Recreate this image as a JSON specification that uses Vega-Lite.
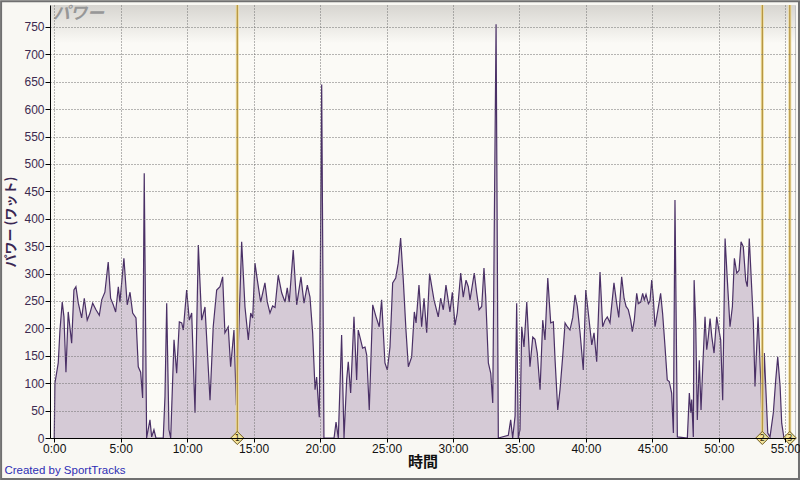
{
  "$schema": "https://vega.github.io/schema/vega-lite/v6.json",
  "width": 745,
  "height": 433,
  "autosize": "none",
  "padding": {"left": 50, "top": 5, "right": 5, "bottom": 42},
  "background": "#F9F8F3",
  "config": {
    "view": {"fill": "#FBFAF6", "stroke": "#C4C4C4"},
    "axisX": {
      "zindex": 1,
      "tickCount": 12,
      "labelExpr": "datum.value + ':00'",
      "grid": true, "gridDash": [1, 2], "gridColor": "#6E6E6E", "gridOpacity": 1,
      "domainColor": "#000000", "tickColor": "#000000", "tickSize": 4,
      "labelFont": "Liberation Sans Narrow, Liberation Sans", "labelFontSize": 12, "labelColor": "#111111",
      "labelPadding": 1, "labelFlush": false, "labelOverlap": false,
      "titleFont": "Noto Sans CJK JP", "titleFontSize": 15, "titleFontWeight": "bold",
      "titleColor": "#111111", "titlePadding": 0
    },
    "axisY": {
      "zindex": 1,
      "tickCount": 16,
      "grid": true, "gridDash": [1, 2], "gridColor": "#6E6E6E", "gridOpacity": 1,
      "domainColor": "#000000", "tickColor": "#000000", "tickSize": 5,
      "labelFont": "Liberation Sans Narrow, Liberation Sans", "labelFontSize": 12, "labelColor": "#3D2A50",
      "labelPadding": 1, "labelOverlap": false,
      "titleFont": "Noto Sans CJK JP", "titleFontSize": 13, "titleFontWeight": "bold",
      "titleColor": "#3A2752", "titlePadding": 6
    }
  },
  "datasets": {
    "power": [
      {"t":0,"w":0},{"t":0.05,"w":100},{"t":0.3,"w":137},{"t":0.43,"w":197},{"t":0.6,"w":248},{"t":0.73,"w":221},{"t":0.88,"w":120},{"t":1.05,"w":230},{"t":1.31,"w":173},{"t":1.48,"w":270},{"t":1.63,"w":276},{"t":1.81,"w":246},{"t":2.06,"w":219},{"t":2.26,"w":255},{"t":2.48,"w":215},{"t":2.69,"w":228},{"t":2.89,"w":246},{"t":3.14,"w":234},{"t":3.39,"w":224},{"t":3.57,"w":252},{"t":3.81,"w":266},{"t":4.06,"w":321},{"t":4.24,"w":255},{"t":4.44,"w":243},{"t":4.62,"w":230},{"t":4.82,"w":276},{"t":4.94,"w":248},{"t":5.24,"w":328},{"t":5.49,"w":243},{"t":5.7,"w":266},{"t":5.9,"w":228},{"t":6.15,"w":219},{"t":6.32,"w":130},{"t":6.5,"w":120},{"t":6.65,"w":73},{"t":6.77,"w":483},{"t":6.95,"w":0},{"t":7.2,"w":33},{"t":7.33,"w":2},{"t":7.5,"w":15},{"t":7.65,"w":0},{"t":8.2,"w":0},{"t":8.33,"w":75},{"t":8.46,"w":246},{"t":8.63,"w":15},{"t":8.76,"w":0},{"t":9.01,"w":179},{"t":9.21,"w":118},{"t":9.41,"w":212},{"t":9.59,"w":210},{"t":9.71,"w":197},{"t":9.96,"w":270},{"t":10.16,"w":215},{"t":10.34,"w":228},{"t":10.59,"w":46},{"t":10.84,"w":352},{"t":11.09,"w":215},{"t":11.34,"w":239},{"t":11.72,"w":69},{"t":11.96,"w":203},{"t":12.22,"w":270},{"t":12.47,"w":276},{"t":12.67,"w":294},{"t":12.84,"w":192},{"t":13.09,"w":203},{"t":13.27,"w":130},{"t":13.52,"w":197},{"t":13.7,"w":60},{"t":14.1,"w":358},{"t":14.35,"w":239},{"t":14.6,"w":179},{"t":14.78,"w":228},{"t":14.93,"w":219},{"t":15.1,"w":319},{"t":15.28,"w":288},{"t":15.53,"w":248},{"t":15.85,"w":283},{"t":16.03,"w":248},{"t":16.23,"w":228},{"t":16.43,"w":241},{"t":16.61,"w":238},{"t":16.85,"w":297},{"t":17.11,"w":265},{"t":17.36,"w":248},{"t":17.53,"w":274},{"t":17.68,"w":248},{"t":17.98,"w":343},{"t":18.24,"w":243},{"t":18.56,"w":294},{"t":18.79,"w":246},{"t":19.04,"w":279},{"t":19.24,"w":257},{"t":19.44,"w":192},{"t":19.62,"w":88},{"t":19.74,"w":111},{"t":19.94,"w":38},{"t":20.12,"w":645},{"t":20.29,"w":0},{"t":21.05,"w":0},{"t":21.2,"w":29},{"t":21.37,"w":0},{"t":21.62,"w":188},{"t":21.8,"w":0},{"t":22.0,"w":106},{"t":22.12,"w":139},{"t":22.3,"w":82},{"t":22.55,"w":221},{"t":22.75,"w":106},{"t":22.87,"w":197},{"t":23.05,"w":179},{"t":23.2,"w":164},{"t":23.38,"w":166},{"t":23.51,"w":151},{"t":23.7,"w":51},{"t":23.96,"w":243},{"t":24.21,"w":221},{"t":24.45,"w":203},{"t":24.63,"w":252},{"t":24.88,"w":137},{"t":25.06,"w":124},{"t":25.26,"w":166},{"t":25.46,"w":283},{"t":25.69,"w":292},{"t":25.88,"w":319},{"t":26.06,"w":365},{"t":26.26,"w":288},{"t":26.46,"w":197},{"t":26.64,"w":130},{"t":26.89,"w":148},{"t":27.09,"w":230},{"t":27.22,"w":210},{"t":27.44,"w":279},{"t":27.64,"w":203},{"t":27.82,"w":255},{"t":28.02,"w":192},{"t":28.24,"w":300},{"t":28.57,"w":252},{"t":28.89,"w":221},{"t":29.07,"w":255},{"t":29.27,"w":234},{"t":29.47,"w":279},{"t":29.77,"w":230},{"t":29.95,"w":266},{"t":30.15,"w":206},{"t":30.32,"w":228},{"t":30.58,"w":301},{"t":30.77,"w":257},{"t":30.98,"w":288},{"t":31.15,"w":276},{"t":31.28,"w":252},{"t":31.6,"w":301},{"t":31.78,"w":265},{"t":31.96,"w":234},{"t":32.16,"w":240},{"t":32.33,"w":310},{"t":32.46,"w":257},{"t":32.66,"w":137},{"t":32.84,"w":118},{"t":32.99,"w":64},{"t":33.24,"w":755},{"t":33.41,"w":0},{"t":34.16,"w":5},{"t":34.34,"w":33},{"t":34.49,"w":0},{"t":34.67,"w":40},{"t":34.79,"w":246},{"t":34.91,"w":0},{"t":35.04,"w":15},{"t":35.17,"w":203},{"t":35.34,"w":166},{"t":35.55,"w":248},{"t":35.79,"w":130},{"t":36.0,"w":184},{"t":36.17,"w":180},{"t":36.34,"w":155},{"t":36.55,"w":88},{"t":36.75,"w":215},{"t":36.92,"w":179},{"t":37.13,"w":292},{"t":37.35,"w":210},{"t":37.55,"w":212},{"t":37.68,"w":142},{"t":37.88,"w":51},{"t":38.05,"w":88},{"t":38.25,"w":148},{"t":38.43,"w":210},{"t":38.6,"w":203},{"t":38.8,"w":197},{"t":39.01,"w":220},{"t":39.18,"w":261},{"t":39.35,"w":240},{"t":39.56,"w":192},{"t":39.8,"w":124},{"t":39.99,"w":270},{"t":40.18,"w":228},{"t":40.44,"w":170},{"t":40.61,"w":192},{"t":40.81,"w":139},{"t":41.06,"w":303},{"t":41.26,"w":203},{"t":41.44,"w":215},{"t":41.61,"w":221},{"t":41.81,"w":210},{"t":42.11,"w":283},{"t":42.31,"w":246},{"t":42.47,"w":220},{"t":42.69,"w":294},{"t":42.87,"w":255},{"t":43.02,"w":240},{"t":43.19,"w":234},{"t":43.37,"w":215},{"t":43.49,"w":194},{"t":43.64,"w":215},{"t":43.82,"w":264},{"t":43.94,"w":245},{"t":44.12,"w":248},{"t":44.27,"w":264},{"t":44.39,"w":252},{"t":44.52,"w":262},{"t":44.7,"w":245},{"t":44.82,"w":250},{"t":44.95,"w":288},{"t":45.07,"w":255},{"t":45.2,"w":203},{"t":45.37,"w":227},{"t":45.62,"w":264},{"t":45.77,"w":227},{"t":45.95,"w":167},{"t":46.12,"w":106},{"t":46.27,"w":103},{"t":46.45,"w":82},{"t":46.58,"w":9},{"t":46.7,"w":434},{"t":46.88,"w":2},{"t":47.63,"w":0},{"t":47.78,"w":82},{"t":47.89,"w":46},{"t":47.96,"w":70},{"t":48.08,"w":2},{"t":48.14,"w":288},{"t":48.26,"w":209},{"t":48.38,"w":33},{"t":48.53,"w":142},{"t":48.66,"w":51},{"t":48.79,"w":130},{"t":48.96,"w":221},{"t":49.09,"w":161},{"t":49.21,"w":185},{"t":49.34,"w":218},{"t":49.47,"w":185},{"t":49.64,"w":155},{"t":49.84,"w":221},{"t":49.96,"w":203},{"t":50.14,"w":179},{"t":50.29,"w":69},{"t":50.47,"w":364},{"t":50.64,"w":288},{"t":50.84,"w":203},{"t":51.02,"w":240},{"t":51.17,"w":328},{"t":51.35,"w":301},{"t":51.52,"w":306},{"t":51.67,"w":358},{"t":51.84,"w":349},{"t":52.02,"w":288},{"t":52.14,"w":276},{"t":52.29,"w":364},{"t":52.48,"w":270},{"t":52.6,"w":209},{"t":52.72,"w":94},{"t":52.85,"w":167},{"t":52.95,"w":221},{"t":53.05,"w":167},{"t":53.17,"w":94},{"t":53.27,"w":2},{"t":53.42,"w":155},{"t":53.55,"w":82},{"t":53.68,"w":9},{"t":53.85,"w":2},{"t":54.1,"w":46},{"t":54.28,"w":106},{"t":54.43,"w":148},{"t":54.61,"w":94},{"t":54.73,"w":27},{"t":54.9,"w":0},{"t":55.4,"w":0}
    ],
    "laps": [
      {"lap": "1", "t": 13.77},
      {"lap": "2", "t": 53.27},
      {"lap": "3", "t": 55.34}
    ],
    "one": [{}]
  },
  "encoding": {
    "x": {"type": "quantitative", "scale": {"domain": [-0.32, 55.73], "nice": false, "zero": false}, "title": "時間", "axis": {"zindex": 1}},
    "y": {"type": "quantitative", "scale": {"domain": [0, 790], "nice": false}, "title": "パワー (ワット)", "axis": {"zindex": 1}}
  },
  "layer": [
    {
      "data": {"name": "one"},
      "mark": {
        "type": "rect",
        "color": {"gradient": "linear", "x1": 0, "y1": 0, "x2": 0, "y2": 1,
          "stops": [{"offset": 0, "color": "#D7D5D0"}, {"offset": 1, "color": "#FBFAF6"}]}
      },
      "encoding": {
        "x": {"datum": -0.32, "type": "quantitative"},
        "x2": {"datum": 55.73},
        "y": {"datum": 790, "type": "quantitative"},
        "y2": {"datum": 720}
      }
    },
    {
      "data": {"name": "power"},
      "mark": {
        "type": "area",
        "color": "#D5CAD6",
        "opacity": 1,
        "interpolate": "linear",
        "line": {"color": "#4A3066", "strokeWidth": 1.2}
      },
      "encoding": {
        "x": {"field": "t", "type": "quantitative"},
        "y": {"field": "w", "type": "quantitative"}
      }
    },
    {
      "data": {"name": "laps"},
      "mark": {"type": "rule", "color": "#EEDC9C", "strokeWidth": 3},
      "encoding": {"x": {"field": "t", "type": "quantitative"}}
    },
    {
      "data": {"name": "laps"},
      "mark": {"type": "rule", "color": "#A88530", "strokeWidth": 1},
      "encoding": {"x": {"field": "t", "type": "quantitative"}}
    },
    {
      "data": {"name": "laps"},
      "mark": {"type": "point", "shape": "diamond", "filled": true, "size": 170, "fill": "#F3E49C", "stroke": "#6E5A1E", "strokeWidth": 1, "opacity": 1},
      "encoding": {"x": {"field": "t", "type": "quantitative"}, "y": {"datum": 0, "type": "quantitative"}}
    },
    {
      "data": {"name": "laps"},
      "mark": {"type": "text", "fontSize": 8, "font": "DejaVu Sans", "color": "#3A3010", "baseline": "middle", "dy": 1},
      "encoding": {"x": {"field": "t", "type": "quantitative"}, "y": {"datum": 0, "type": "quantitative"}, "text": {"field": "lap"}}
    },
    {
      "data": {"name": "one"},
      "mark": {"type": "text", "text": "パワー", "font": "Noto Sans CJK JP", "fontSize": 17, "fontStyle": "italic", "fontWeight": "bold", "color": "#979797", "align": "left", "baseline": "middle"},
      "encoding": {"x": {"datum": -0.1, "type": "quantitative"}, "y": {"datum": 773, "type": "quantitative"}}
    },
    {
      "data": {"name": "one"},
      "mark": {"type": "text", "text": "Created by SportTracks", "font": "Liberation Sans", "fontSize": 11.5, "color": "#2E2EB4", "align": "left", "baseline": "middle"},
      "encoding": {"x": {"datum": -3.75, "type": "quantitative"}, "y": {"datum": -61, "type": "quantitative"}}
    },
    {
      "data": {"name": "one"},
      "mark": {"type": "rect", "fill": null, "filled": false, "stroke": "#707070", "strokeWidth": 2},
      "encoding": {
        "x": {"datum": -4.0, "type": "quantitative"},
        "x2": {"datum": 56.03},
        "y": {"datum": 797, "type": "quantitative"},
        "y2": {"datum": -74.8}
      }
    }
  ]
}
